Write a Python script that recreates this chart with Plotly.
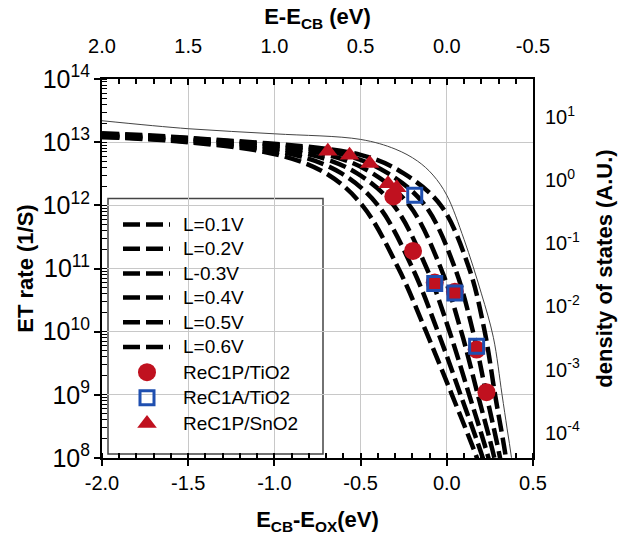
import plotly.graph_objects as go

# ---------------- data ----------------
labels = ["L=0.1V", "L=0.2V", "L-0.3V", "L=0.4V", "L=0.5V", "L=0.6V"]

# E_CB - E_OX (eV) for each curve, rightmost (L=0.1V) to leftmost (L=0.6V)
curve_x = [
    [-2.0, -1.5, -0.50, -0.25, -0.035, 0.13, 0.22, 0.28, 0.343, 0.365],
    [-2.0, -1.5, -0.596, -0.34, -0.126, 0.048, 0.152, 0.23, 0.309, 0.339],
    [-2.0, -1.5, -0.692, -0.43, -0.217, -0.034, 0.084, 0.18, 0.276, 0.313],
    [-2.0, -1.5, -0.788, -0.52, -0.308, -0.116, 0.016, 0.13, 0.242, 0.287],
    [-2.0, -1.5, -0.884, -0.61, -0.399, -0.198, -0.052, 0.08, 0.209, 0.261],
    [-2.0, -1.5, -0.98, -0.70, -0.49, -0.28, -0.12, 0.03, 0.175, 0.235],
]
# ET rate (1/s)
curve_rate = [
    [1.38e13, 1.17e13, 6.3e12, 3.2e12, 1e12, 1e11, 1e10, 1e9, 1e8, 3.2e7],
    [1.32e13, 1.15e13, 6.3e12, 3.2e12, 1e12, 1e11, 1e10, 1e9, 1e8, 3.2e7],
    [1.29e13, 1.10e13, 6.3e12, 3.2e12, 1e12, 1e11, 1e10, 1e9, 1e8, 3.2e7],
    [1.26e13, 1.07e13, 6.3e12, 3.2e12, 1e12, 1e11, 1e10, 1e9, 1e8, 3.2e7],
    [1.23e13, 1.02e13, 6.3e12, 3.2e12, 1e12, 1e11, 1e10, 1e9, 1e8, 3.2e7],
    [1.20e13, 1.00e13, 6.3e12, 3.2e12, 1e12, 1e11, 1e10, 1e9, 1e8, 3.2e7],
]

# density of states vs E - E_CB (eV)  (top / right axes)
dos_e = [2.0, 1.5, 1.0, 0.5, 0.3, 0.17, 0.08, 0.0, -0.1, -0.2, -0.27, -0.32, -0.35, -0.375, -0.39]
dos_val = [8.7, 6.5, 5.4, 4.4, 3.1, 2.0, 1.2, 0.575, 0.115, 0.0162, 0.00324,
           0.000407, 0.000115, 0.0000407, 0.0000162]

# experimental points
c1p_tio2_x = [-0.31, -0.196, -0.07, 0.047, 0.173, 0.23]
c1p_tio2_k = [1.38e12, 1.9e11, 6.0e10, 4.3e10, 5.2e9, 1.1e9]
c1a_tio2_x = [-0.186, -0.07, 0.047, 0.173]
c1a_tio2_k = [1.45e12, 5.8e10, 4.1e10, 5.9e9]
c1p_sno2_x = [-0.69, -0.564, -0.447, -0.341, -0.29]
c1p_sno2_k = [7.2e12, 6.2e12, 4.6e12, 2.2e12, 1.9e12]

marker_labels = ["ReC1P/TiO2", "ReC1A/TiO2", "ReC1P/SnO2"]

bottom_ticks = [-2.0, -1.5, -1.0, -0.5, 0.0, 0.5]
bottom_text = ["-2.0", "-1.5", "-1.0", "-0.5", "0.0", "0.5"]
top_ticks = [2.0, 1.5, 1.0, 0.5, 0.0, -0.5]
top_text = ["2.0", "1.5", "1.0", "0.5", "0.0", "-0.5"]
dos_ticks = [1e-4, 1e-3, 1e-2, 1e-1, 1, 10]
dos_text = ["10<sup>-4</sup>", "10<sup>-3</sup>", "10<sup>-2</sup>", "10<sup>-1</sup>",
            "10<sup>0</sup>", "10<sup>1</sup>"]

# ---------------- layout geometry (pixels) ----------------
W, H = 626, 540
ML, MR, MT, MB = 102, 93, 79, 77
PW, PH = W - ML - MR, H - MT - MB


def px_x(px):
    return (px - ML) / PW


def px_y(py):
    return (H - MB - py) / PH


FONT = "Arial, Liberation Sans, sans-serif"
RED = "#c0111f"
BLUE = "#1f4fb0"
DASH = "17px,6px"
circle_style = dict(symbol="circle", size=18, color=RED)
square_style = dict(symbol="square-open", size=14, color=BLUE, line=dict(width=3, color=BLUE))
triangle_style = dict(symbol="triangle-up", size=17, color=RED)

fig = go.Figure()

for lab, xs, ks in zip(labels, curve_x, curve_rate):
    fig.add_trace(go.Scatter(
        x=xs, y=ks, mode="lines", name=lab,
        line=dict(color="black", width=4.5, dash=DASH, shape="spline", smoothing=1.0),
        xaxis="x", yaxis="y",
    ))

fig.add_trace(go.Scatter(
    x=dos_e, y=dos_val, mode="lines", name="DOS",
    line=dict(color="#444444", width=1, shape="spline", smoothing=1.0),
    xaxis="x2", yaxis="y2",
))

fig.add_trace(go.Scatter(x=c1p_tio2_x, y=c1p_tio2_k, mode="markers",
                         name=marker_labels[0], marker=circle_style))
fig.add_trace(go.Scatter(x=c1a_tio2_x, y=c1a_tio2_k, mode="markers",
                         name=marker_labels[1], marker=square_style))
fig.add_trace(go.Scatter(x=c1p_sno2_x, y=c1p_sno2_k, mode="markers",
                         name=marker_labels[2], marker=triangle_style))

# ---------------- hand-drawn legend (tight Excel-like spacing) ----------------
box = dict(x0=px_x(108), x1=px_x(323), y0=px_y(459), y1=px_y(200))
entry_py = [226.5, 251, 276, 300.5, 325.5, 350.5, 376, 402, 428]
text_x = px_x(181)
sym_x0, sym_x1, sym_xc = px_x(123), px_x(170), px_x(147)

shapes = [dict(type="rect", xref="paper", yref="paper", **box,
               line=dict(color="#444444", width=1.5), fillcolor="white", layer="between")]
annotations = []
all_labels = labels + marker_labels
for i, lab in enumerate(all_labels):
    yy = px_y(entry_py[i])
    annotations.append(dict(xref="paper", yref="paper", x=text_x, y=yy, xanchor="left",
                            yanchor="middle", text=lab, showarrow=False,
                            font=dict(family=FONT, size=19, color="black")))
    if i < len(labels):
        shapes.append(dict(type="line", xref="paper", yref="paper", x0=sym_x0, x1=sym_x1,
                           y0=yy, y1=yy, line=dict(color="black", width=4.5, dash=DASH),
                           layer="above"))

for j, style in enumerate([circle_style, square_style, triangle_style]):
    fig.add_trace(go.Scatter(x=[sym_xc], y=[px_y(entry_py[len(labels) + j])], mode="markers",
                             marker=style, xaxis="x3", yaxis="y3", hoverinfo="skip"))

axis_common = dict(showline=True, linecolor="black", linewidth=2, mirror=False,
                   tickfont=dict(family=FONT, size=20, color="black"), zeroline=False)
TITLE_FONT = dict(family=FONT, size=22, color="black")

fig.update_layout(
    width=W, height=H,
    margin=dict(l=ML, r=MR, t=MT, b=MB),
    paper_bgcolor="white", plot_bgcolor="white",
    font=dict(family=FONT, color="black"),
    showlegend=False,
    xaxis=dict(
        range=[-2.0, 0.5], tickvals=bottom_ticks, ticktext=bottom_text,
        ticks="outside", ticklen=6, tickwidth=2, tickcolor="black",
        minor=dict(dtick=0.1, ticks="inside", ticklen=5, tickwidth=1.5, tickcolor="black", showgrid=False),
        showgrid=True, gridcolor="#c8c8c8", gridwidth=1,
        title=dict(text="<b>E<sub>CB</sub>-E<sub>OX</sub>(eV)</b>", font=TITLE_FONT, standoff=19),
        anchor="y", **axis_common,
    ),
    xaxis2=dict(
        range=[2.0, -0.5], overlaying="x", side="top", anchor="y",
        tickvals=top_ticks, ticktext=top_text,
        ticks="inside", ticklen=6, tickwidth=2, tickcolor="black",
        minor=dict(dtick=0.1, ticks="inside", ticklen=5, tickwidth=1.5, tickcolor="black", showgrid=False),
        showgrid=False, ticklabelstandoff=16,
        title=dict(text="<b>E-E<sub>CB</sub> (eV)</b>", font=TITLE_FONT, standoff=4),
        **axis_common,
    ),
    xaxis3=dict(overlaying="x", range=[0, 1], visible=False, anchor="y3"),
    yaxis=dict(
        type="log", range=[8, 14], dtick=1, exponentformat="power",
        ticks="outside", ticklen=6, tickwidth=2, tickcolor="black",
        minor=dict(ticks="inside", ticklen=5, tickwidth=1, tickcolor="black", showgrid=False),
        showgrid=True, gridcolor="#c8c8c8", gridwidth=1,
        title=dict(text="<b>ET rate (1/S)</b>", font=TITLE_FONT, standoff=3),
        anchor="x", **axis_common,
    ),
    yaxis2=dict(
        type="log", range=[-4.4, 1.6], overlaying="y", side="right", anchor="x",
        tickvals=dos_ticks, ticktext=dos_text,
        ticks="", showgrid=False, ticklabelstandoff=6,
        title=dict(text="<b>density of states (A.U.)</b>", font=TITLE_FONT, standoff=18),
        **axis_common,
    ),
    yaxis3=dict(overlaying="y", range=[0, 1], visible=False, anchor="x3"),
    shapes=shapes,
    annotations=annotations,
)

fig.write_html("out.html")
